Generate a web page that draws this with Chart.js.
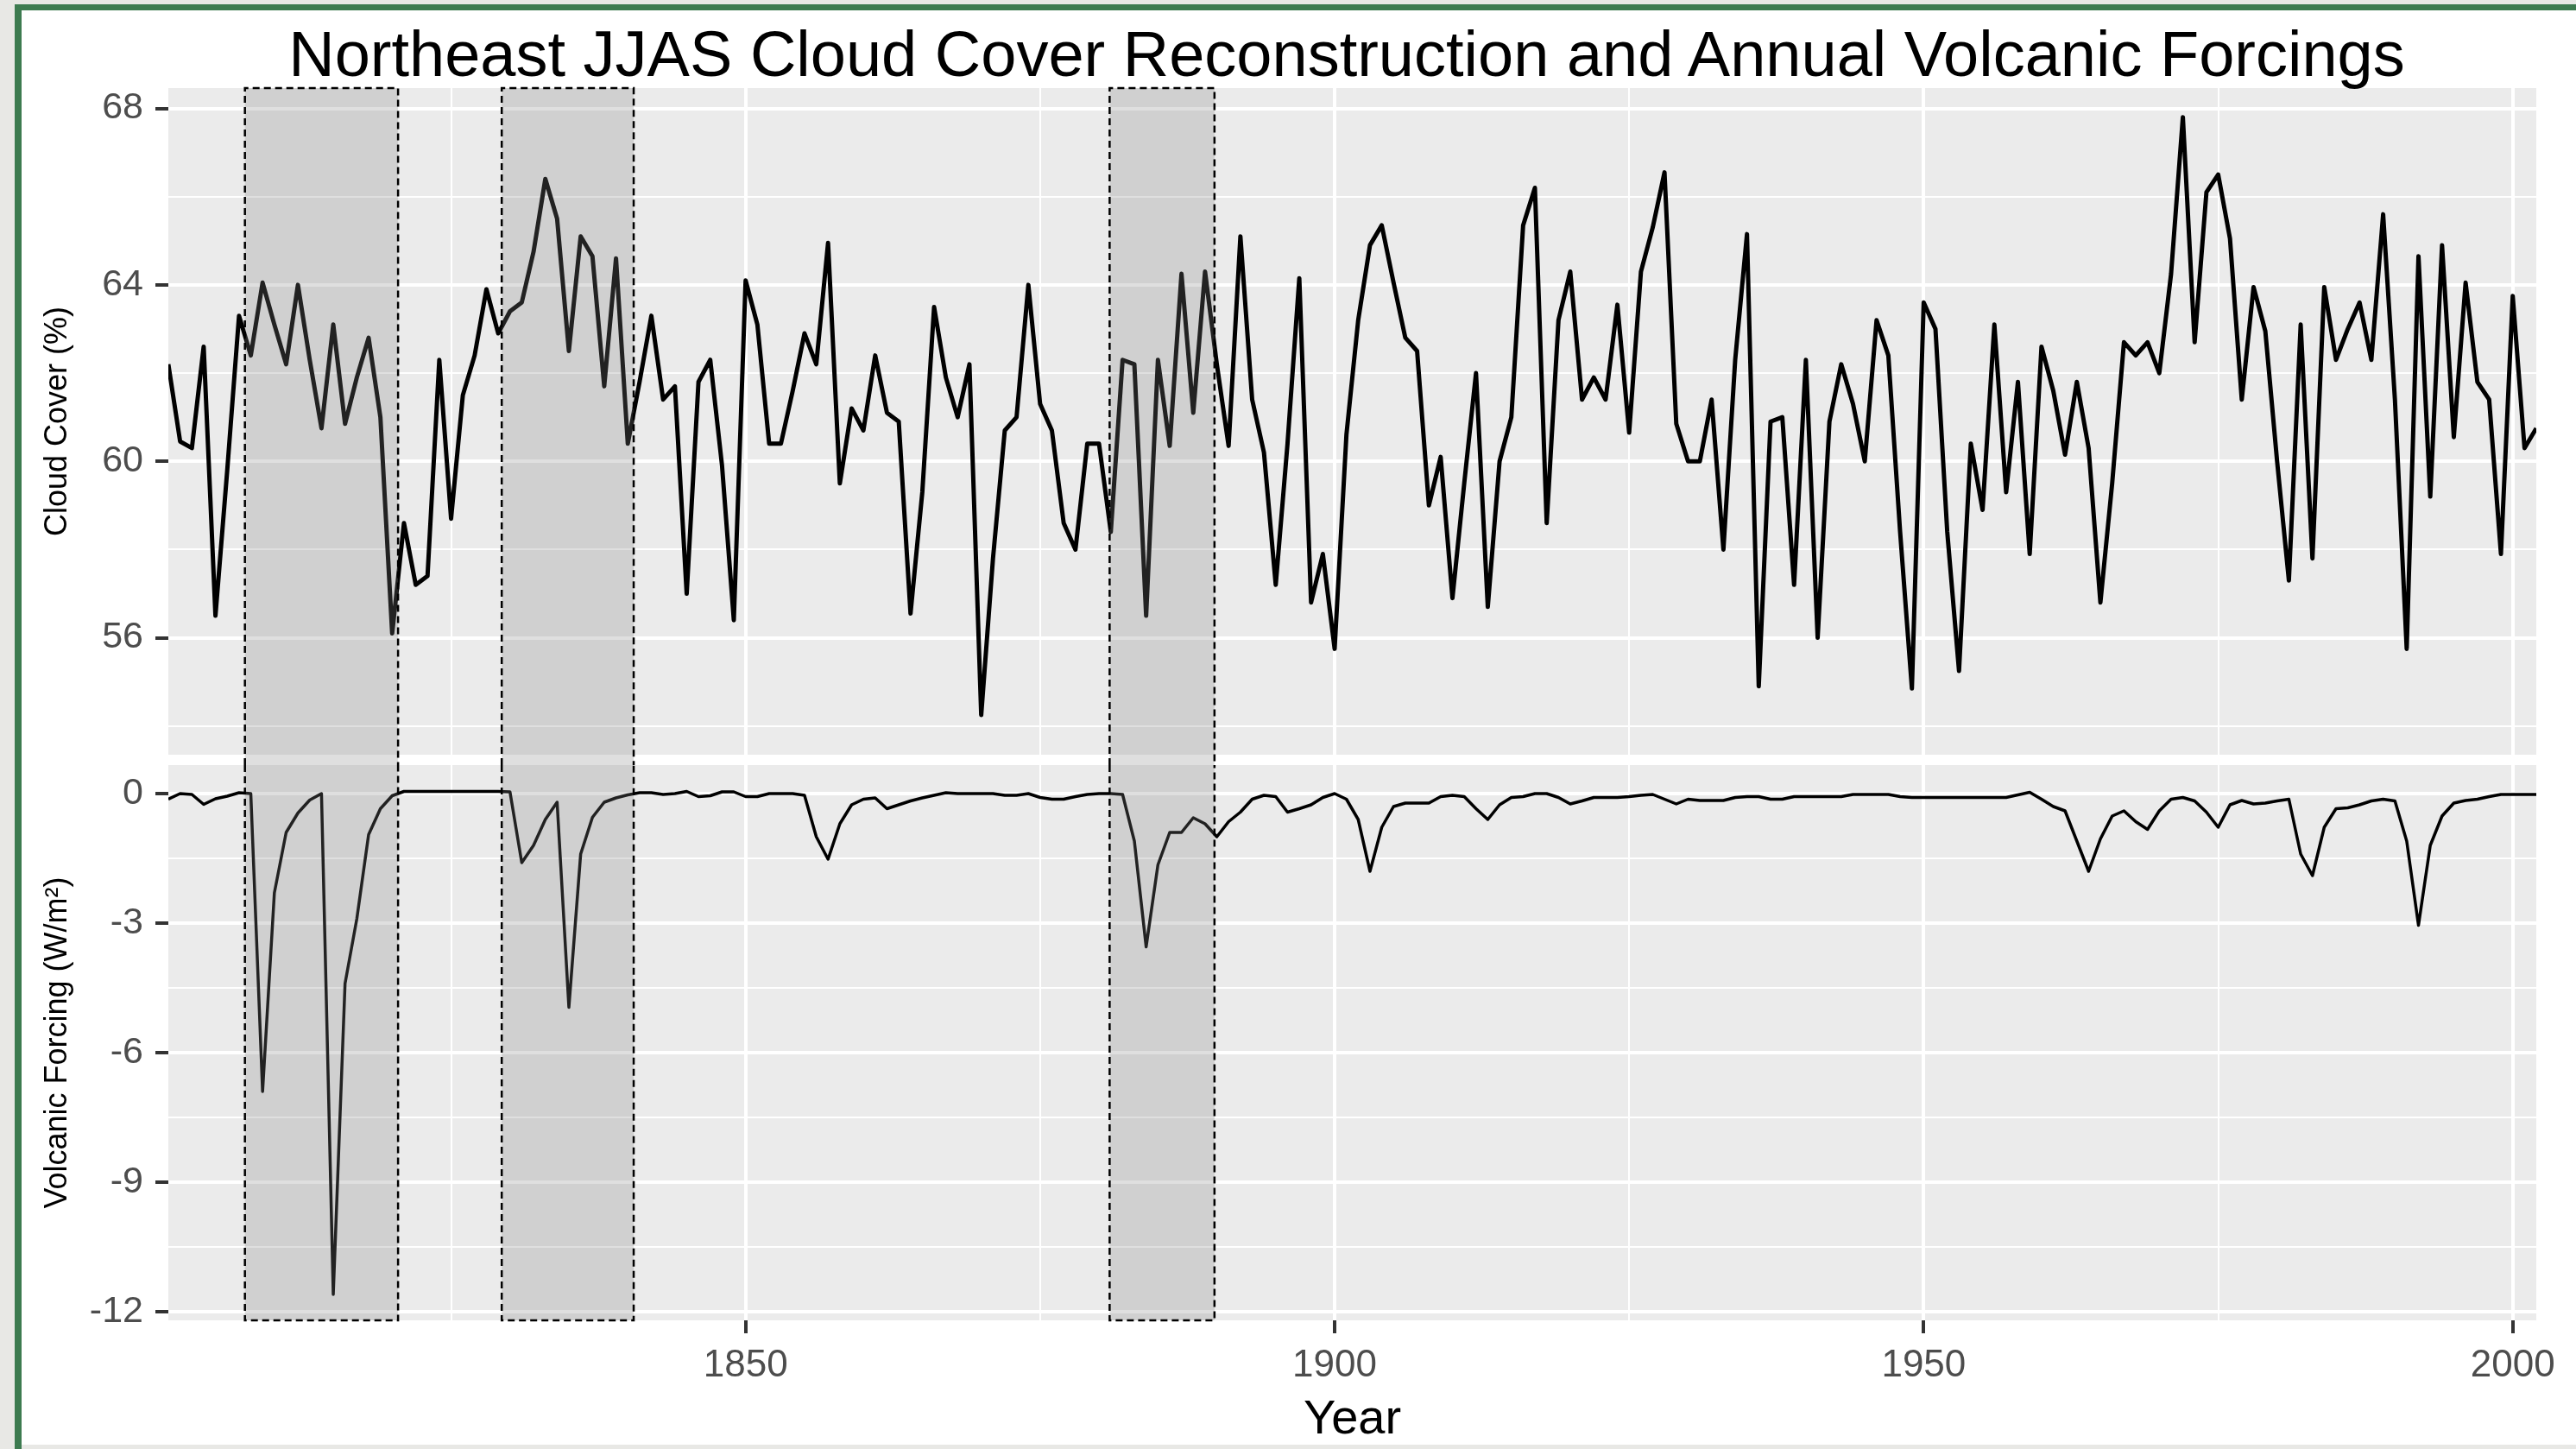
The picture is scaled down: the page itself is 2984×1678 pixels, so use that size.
<!DOCTYPE html>
<html>
<head>
<meta charset="utf-8">
<title>Northeast JJAS Cloud Cover Reconstruction and Annual Volcanic Forcings</title>
<script src="https://cdn.jsdelivr.net/npm/chart.js@4.4.1/dist/chart.umd.min.js"></script>
<style>
    html, body { margin: 0; padding: 0; background: #e8e8e5; }
    #page { position: relative; width: 2984px; height: 1678px; overflow: hidden; }
    #frame { position: absolute; left: 17px; top: 5px; right: 0; bottom: 0; background: #ffffff; border-left: 8px solid #3d7b50; border-top: 7px solid #3d7b50; }
    #strip { position: absolute; left: 25px; right: 0; bottom: 0; height: 5px; background: #e8e8e5; }
    #title { position: absolute; left: 136px; width: 2848px; top: 26px; text-align: center; font-family: "Liberation Sans", Arial, sans-serif; font-size: 74px; line-height: 74px; color: #000000; white-space: nowrap; }
    canvas { position: absolute; left: 0; top: 0; }
</style>
</head>
<body>
<div id="page">
    <div id="frame"></div>
    <div id="strip"></div>
    <canvas id="volcanicChart" width="2984" height="1678"></canvas>
    <canvas id="cloudChart" width="2984" height="1678"></canvas>
    <div id="title">Northeast JJAS Cloud Cover Reconstruction and Annual Volcanic Forcings</div>
</div>
<script>
const years = [
    1801, 1802, 1803, 1804, 1805, 1806, 1807, 1808, 1809, 1810,
    1811, 1812, 1813, 1814, 1815, 1816, 1817, 1818, 1819, 1820,
    1821, 1822, 1823, 1824, 1825, 1826, 1827, 1828, 1829, 1830,
    1831, 1832, 1833, 1834, 1835, 1836, 1837, 1838, 1839, 1840,
    1841, 1842, 1843, 1844, 1845, 1846, 1847, 1848, 1849, 1850,
    1851, 1852, 1853, 1854, 1855, 1856, 1857, 1858, 1859, 1860,
    1861, 1862, 1863, 1864, 1865, 1866, 1867, 1868, 1869, 1870,
    1871, 1872, 1873, 1874, 1875, 1876, 1877, 1878, 1879, 1880,
    1881, 1882, 1883, 1884, 1885, 1886, 1887, 1888, 1889, 1890,
    1891, 1892, 1893, 1894, 1895, 1896, 1897, 1898, 1899, 1900,
    1901, 1902, 1903, 1904, 1905, 1906, 1907, 1908, 1909, 1910,
    1911, 1912, 1913, 1914, 1915, 1916, 1917, 1918, 1919, 1920,
    1921, 1922, 1923, 1924, 1925, 1926, 1927, 1928, 1929, 1930,
    1931, 1932, 1933, 1934, 1935, 1936, 1937, 1938, 1939, 1940,
    1941, 1942, 1943, 1944, 1945, 1946, 1947, 1948, 1949, 1950,
    1951, 1952, 1953, 1954, 1955, 1956, 1957, 1958, 1959, 1960,
    1961, 1962, 1963, 1964, 1965, 1966, 1967, 1968, 1969, 1970,
    1971, 1972, 1973, 1974, 1975, 1976, 1977, 1978, 1979, 1980,
    1981, 1982, 1983, 1984, 1985, 1986, 1987, 1988, 1989, 1990,
    1991, 1992, 1993, 1994, 1995, 1996, 1997, 1998, 1999, 2000,
    2001, 2002
]

// JJAS cloud cover (%), one value per year
const cloudCover = [
    62.2, 60.45, 60.3, 62.6, 56.5, 59.8, 63.3, 62.4, 64.05, 63.1,
    62.2, 64.0, 62.3, 60.75, 63.1, 60.85, 61.9, 62.8, 61.0, 56.1,
    58.6, 57.2, 57.4, 62.3, 58.7, 61.5, 62.4, 63.9, 62.9, 63.4,
    63.6, 64.75, 66.4, 65.5, 62.5, 65.1, 64.65, 61.7, 64.6, 60.4,
    61.8, 63.3, 61.4, 61.7, 57.0, 61.8, 62.3, 59.9, 56.4, 64.1,
    63.1, 60.4, 60.4, 61.6, 62.9, 62.2, 64.95, 59.5, 61.2, 60.7,
    62.4, 61.1, 60.9, 56.55, 59.3, 63.5, 61.9, 61.0, 62.2, 54.25,
    57.8, 60.7, 61.0, 64.0, 61.3, 60.7, 58.6, 58.0, 60.4, 60.4,
    58.4, 62.3, 62.2, 56.5, 62.3, 60.35, 64.25, 61.1, 64.3, 62.2,
    60.35, 65.1, 61.4, 60.2, 57.2, 60.4, 64.15, 56.8, 57.9, 55.75,
    60.6, 63.2, 64.9, 65.35, 64.05, 62.8, 62.5, 59.0, 60.1, 56.9,
    59.5, 62.0, 56.7, 60.0, 61.0, 65.35, 66.2, 58.6, 63.2, 64.3,
    61.4, 61.9, 61.4, 63.55, 60.65, 64.3, 65.3, 66.55, 60.85, 60.0,
    60.0, 61.4, 58.0, 62.3, 65.15, 54.9, 60.9, 61.0, 57.2, 62.3,
    56.0, 60.9, 62.2, 61.3, 60.0, 63.2, 62.4, 58.4, 54.85, 63.6,
    63.0, 58.4, 55.25, 60.4, 58.9, 63.1, 59.3, 61.8, 57.9, 62.6,
    61.6, 60.15, 61.8, 60.3, 56.8, 59.5, 62.7, 62.4, 62.7, 62.0,
    64.25, 67.8, 62.7, 66.1, 66.5, 65.05, 61.4, 63.95, 62.95, 60.0,
    57.3, 63.1, 57.8, 63.95, 62.3, 63.0, 63.6, 62.3, 65.6, 61.4,
    55.75, 64.65, 59.2, 64.9, 60.55, 64.05, 61.8, 61.4, 57.9, 63.75,
    60.3, 60.75
]

// annual volcanic forcing (W/m2)
const volcanicForcing = [
    -0.13, 0, -0.02, -0.25, -0.12, -0.06, 0.02, 0, -6.9, -2.3,
    -0.9, -0.45, -0.15, 0, -11.6, -4.4, -2.9, -0.95, -0.35, -0.05,
    0.05, 0.05, 0.05, 0.05, 0.05, 0.05, 0.05, 0.05, 0.05, 0.04,
    -1.6, -1.2, -0.6, -0.2, -4.95, -1.4, -0.55, -0.2, -0.1, -0.03,
    0.02, 0.02, -0.02, 0, 0.05, -0.07, -0.05, 0.04, 0.04, -0.07,
    -0.07, 0, 0, 0, -0.04, -1.0, -1.52, -0.7, -0.26, -0.13,
    -0.1, -0.35, -0.26, -0.17, -0.1, -0.04, 0.02, 0, 0, 0,
    0, -0.04, -0.04, 0, -0.09, -0.13, -0.13, -0.07, -0.02, 0,
    0, -0.02, -1.1, -3.55, -1.65, -0.9, -0.9, -0.56, -0.7, -1.0,
    -0.65, -0.43, -0.13, -0.04, -0.07, -0.43, -0.35, -0.26, -0.09, 0,
    -0.13, -0.6, -1.8, -0.78, -0.3, -0.22, -0.22, -0.22, -0.07, -0.04,
    -0.07, -0.35, -0.6, -0.26, -0.09, -0.07, 0, 0, -0.09, -0.24,
    -0.17, -0.09, -0.09, -0.09, -0.07, -0.04, -0.02, -0.13, -0.24, -0.13,
    -0.16, -0.16, -0.16, -0.09, -0.07, -0.07, -0.13, -0.13, -0.07, -0.07,
    -0.07, -0.07, -0.07, -0.02, -0.02, -0.02, -0.02, -0.07, -0.09, -0.09,
    -0.09, -0.09, -0.09, -0.09, -0.09, -0.09, -0.09, -0.03, 0.03, -0.13,
    -0.3, -0.4, -1.1, -1.8, -1.05, -0.52, -0.4, -0.65, -0.83, -0.4,
    -0.13, -0.09, -0.17, -0.43, -0.78, -0.26, -0.16, -0.24, -0.22, -0.17,
    -0.13, -1.4, -1.9, -0.78, -0.35, -0.33, -0.26, -0.17, -0.13, -0.17,
    -1.1, -3.05, -1.2, -0.52, -0.22, -0.16, -0.13, -0.07, -0.02, -0.02,
    -0.02, -0.02
]

const yearTicks = [1850, 1900, 1950, 2000]
const yearMinor = [1825, 1875, 1925, 1975]
const cloudTicks = [56, 60, 64, 68]
const cloudMinor = [54, 58, 62, 66]
const forcingTicks = [-12, -9, -6, -3, 0]
const forcingMinor = [-10.5, -7.5, -4.5, -1.5]

// shaded periods (years)
const shadeStart = [1807.5, 1829.3, 1880.9]
const shadeEnd = [1820.5, 1840.5, 1889.8]

Chart.defaults.font.family = '"Liberation Sans", Arial, sans-serif'

function toPoints(values) {
    return years.map(function (year, i) {
        return { x: year, y: values[i] }
    })
}

function isMajor(major, ctx) {
    return ctx.tick !== undefined && major.includes(ctx.tick.value)
}

const panelPlugin = {
    id: 'panel',
    beforeDraw(chart) {
        const a = chart.chartArea
        const ctx = chart.ctx
        ctx.save()
        ctx.fillStyle = '#ebebeb'
        ctx.fillRect(a.left, a.top, a.right - a.left, a.bottom - a.top)
        ctx.restore()
    },
    afterDatasetsDraw(chart, args, opts) {
        const a = chart.chartArea
        const ctx = chart.ctx
        const x = chart.scales.x
        const top = a.top
        const bottom = a.bottom + (opts.extendBottom || 0)
        ctx.save()
        for (let i = 0; i < shadeStart.length; i++) {
            const x1 = x.getPixelForValue(shadeStart[i])
            const x2 = x.getPixelForValue(shadeEnd[i])
            ctx.fillStyle = 'rgba(131, 131, 131, 0.26)'
            ctx.fillRect(x1, top, x2 - x1, bottom - top)
            ctx.strokeStyle = '#000000'
            ctx.lineWidth = 2.5
            ctx.setLineDash([8, 5])
            ctx.beginPath()
            if (opts.closed === 'top') {
                ctx.moveTo(x1, bottom)
                ctx.lineTo(x1, top)
                ctx.lineTo(x2, top)
                ctx.lineTo(x2, bottom)
            } else {
                ctx.moveTo(x1, top)
                ctx.lineTo(x1, bottom)
                ctx.lineTo(x2, bottom)
                ctx.lineTo(x2, top)
            }
            ctx.stroke()
        }
        ctx.restore()
    }
}

function xScale(showLabels) {
    return {
        type: 'linear',
        min: years[0],
        max: years[years.length - 1],
        afterBuildTicks: function (scale) {
            scale.ticks = yearMinor.concat(yearTicks).sort(function (a, b) { return a - b }).map(function (v) { return { value: v } })
        },
        afterFit: function (scale) {
            scale.height = showLabels ? 149 : 0
        },
        border: { display: false },
        grid: {
            color: '#ffffff',
            lineWidth: function (ctx) { return isMajor(yearTicks, ctx) ? 4 : 2 },
            drawTicks: showLabels,
            tickLength: 15,
            tickWidth: 4,
            tickColor: function (ctx) { return isMajor(yearTicks, ctx) ? '#333333' : 'rgba(0,0,0,0)' }
        },
        ticks: {
            display: showLabels,
            autoSkip: false,
            maxRotation: 0,
            padding: 11,
            color: '#4d4d4d',
            font: { size: 44 },
            callback: function (v) { return yearTicks.includes(v) ? String(v) : '' }
        },
        title: {
            display: showLabels,
            text: 'Year',
            color: '#000000',
            font: { size: 56 },
            padding: { top: 0, bottom: 0 }
        }
    }
}

function yScale(min, max, major, minor, titleText) {
    return {
        min: min,
        max: max,
        afterBuildTicks: function (scale) {
            scale.ticks = minor.concat(major).sort(function (a, b) { return a - b }).map(function (v) { return { value: v } })
        },
        afterFit: function (scale) {
            scale.width = 160
        },
        border: { display: false },
        grid: {
            color: '#ffffff',
            lineWidth: function (ctx) { return isMajor(major, ctx) ? 4 : 2 },
            tickLength: 15,
            tickWidth: 4,
            tickColor: function (ctx) { return isMajor(major, ctx) ? '#333333' : 'rgba(0,0,0,0)' }
        },
        ticks: {
            autoSkip: false,
            padding: 14,
            color: '#4d4d4d',
            font: { size: 43 },
            callback: function (v) { return major.includes(v) ? String(v) : '' }
        },
        title: {
            display: true,
            text: titleText,
            color: '#000000',
            font: { size: 36 },
            padding: { top: 10, bottom: 0 }
        }
    }
}

function drawCloudChart() {
    const ctx = document.getElementById('cloudChart')
    new Chart(ctx, {
        type: 'line',
        data: {
            datasets: [{
                data: toPoints(cloudCover),
                borderColor: '#000000',
                borderWidth: 5,
                borderJoinStyle: 'round',
                pointRadius: 0,
                tension: 0,
                fill: false
            }]
        },
        options: {
            responsive: false,
            animation: false,
            devicePixelRatio: 1,
            layout: { padding: { left: 35, right: 46, top: 102, bottom: 804 } },
            plugins: {
                legend: { display: false },
                tooltip: { enabled: false },
                panel: { closed: 'top', extendBottom: 12 }
            },
            scales: {
                x: xScale(false),
                y: yScale(53.35, 68.46, cloudTicks, cloudMinor, 'Cloud Cover (%)')
            }
        },
        plugins: [panelPlugin]
    })
}

function drawVolcanicChart() {
    const ctx = document.getElementById('volcanicChart')
    new Chart(ctx, {
        type: 'line',
        data: {
            datasets: [{
                data: toPoints(volcanicForcing),
                borderColor: '#000000',
                borderWidth: 3.5,
                borderJoinStyle: 'round',
                pointRadius: 0,
                tension: 0,
                fill: false
            }]
        },
        options: {
            responsive: false,
            animation: false,
            devicePixelRatio: 1,
            layout: { padding: { left: 35, right: 46, top: 886, bottom: 0 } },
            plugins: {
                legend: { display: false },
                tooltip: { enabled: false },
                panel: { closed: 'bottom' }
            },
            scales: {
                x: xScale(true),
                y: yScale(-12.2, 0.66, forcingTicks, forcingMinor, 'Volcanic Forcing (W/m²)')
            }
        },
        plugins: [panelPlugin]
    })
}

drawVolcanicChart()
drawCloudChart()
</script>
</body>
</html>
